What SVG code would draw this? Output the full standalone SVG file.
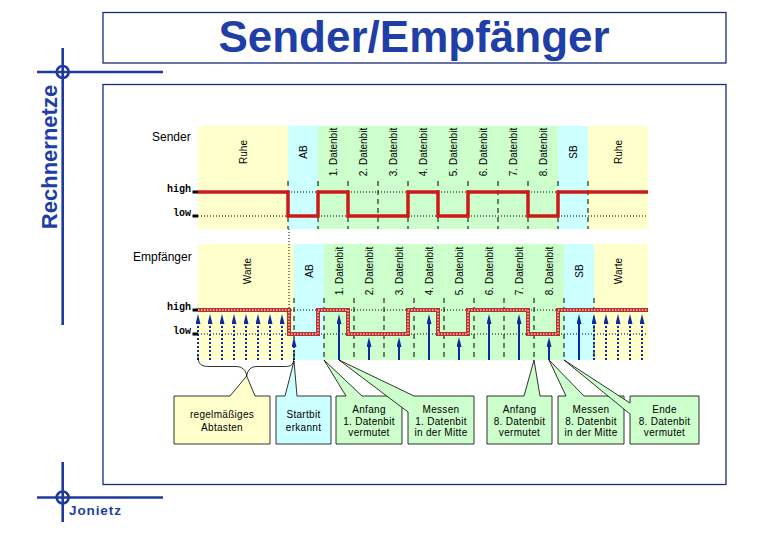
<svg xmlns="http://www.w3.org/2000/svg" width="780" height="540" viewBox="0 0 780 540">
<defs>
<style>
.frame{fill:none;stroke:#1a2a78;stroke-width:1.3}
.cross{fill:none;stroke:#1f3a9e;stroke-width:2.6}
.brand{font-family:"Liberation Sans",Arial,sans-serif;font-weight:bold;fill:#1f3fa6}
.lbl{font-family:"Liberation Sans",Arial,sans-serif;font-size:10px;fill:#000;text-anchor:middle}
.name{font-family:"Liberation Sans",Arial,sans-serif;font-size:12px;fill:#000}
.lvl{font-family:"Liberation Mono","Courier New",monospace;font-size:10px;font-weight:bold;fill:#000;text-anchor:end}
.tick{stroke:#000;stroke-width:3}
.y{fill:#ffffcc}.c{fill:#ccffff}.g{fill:#ccffcc}
.dash{stroke:#000;stroke-width:1;stroke-dasharray:5,4;fill:none}
.dot{stroke:#000;stroke-width:1;stroke-dasharray:1,2;fill:none}
.sig{fill:none;stroke:#cc1a1a;stroke-width:3.5;stroke-linejoin:miter}
.rsig{fill:none;stroke:#b83030;stroke-width:4;stroke-linejoin:miter}
.rsig2{fill:none;stroke:#f6c8b8;stroke-width:1.5;stroke-dasharray:1.5,1.5}
.smp{stroke:#0d2a9e;stroke-width:2;marker-end:url(#ah)}
.smpd{stroke:#0d2a9e;stroke-width:2;stroke-dasharray:2,2;marker-end:url(#ah)}
.box{stroke:#000;stroke-width:0.8}
.bt{font-family:"Liberation Sans",Arial,sans-serif;font-size:10px;fill:#000;text-anchor:middle;letter-spacing:0.3px}
</style>
<marker id="ah" viewBox="0 0 10 5" markerWidth="10" markerHeight="5" refX="6" refY="2.5" orient="auto" markerUnits="userSpaceOnUse">
<path d="M0,0 L10,2.5 L0,5 Z" fill="#0d2a9e"/>
</marker>
</defs>
<rect width="780" height="540" fill="#fff"/>

<g id="title">
<rect class="frame" x="103" y="12.5" width="623" height="50.5"/>
<text class="brand" x="414" y="52" font-size="44" text-anchor="middle">Sender/Empfänger</text>
</g>

<g id="frame">
<rect class="frame" x="103" y="84.5" width="623" height="400"/>
<line class="cross" x1="62.7" y1="48" x2="62.7" y2="325"/>
<line class="cross" x1="37" y1="72" x2="163" y2="72"/>
<circle class="cross" cx="62.7" cy="72" r="6"/>
<text class="brand" transform="translate(57,157) rotate(-90)" font-size="22" text-anchor="middle">Rechnernetze</text>
<line class="cross" x1="62.7" y1="462" x2="62.7" y2="522"/>
<line class="cross" x1="37" y1="497.5" x2="163" y2="497.5"/>
<circle class="cross" cx="62.7" cy="497.5" r="6"/>
<text class="brand" x="69" y="515" font-size="13.5" letter-spacing="0.9">Jonietz</text>
</g>

<g id="sender">
<rect class="y" x="198" y="126" width="90" height="103"/>
<rect class="c" x="288" y="126" width="30" height="103"/>
<rect class="g" x="318" y="126" width="240" height="103"/>
<rect class="c" x="558" y="126" width="30" height="103"/>
<rect class="y" x="588" y="126" width="60" height="103"/>
<text class="name" x="152" y="141">Sender</text>
<text class="lbl" transform="translate(247,152) rotate(-90)">Ruhe</text>
<text class="lbl" transform="translate(307,152) rotate(-90)">AB</text>
<text class="lbl" transform="translate(337,152) rotate(-90)">1. Datenbit</text>
<text class="lbl" transform="translate(367,152) rotate(-90)">2. Datenbit</text>
<text class="lbl" transform="translate(397,152) rotate(-90)">3. Datenbit</text>
<text class="lbl" transform="translate(427,152) rotate(-90)">4. Datenbit</text>
<text class="lbl" transform="translate(457,152) rotate(-90)">5. Datenbit</text>
<text class="lbl" transform="translate(487,152) rotate(-90)">6. Datenbit</text>
<text class="lbl" transform="translate(517,152) rotate(-90)">7. Datenbit</text>
<text class="lbl" transform="translate(547,152) rotate(-90)">8. Datenbit</text>
<text class="lbl" transform="translate(577,152) rotate(-90)">SB</text>
<text class="lbl" transform="translate(622,152) rotate(-90)">Ruhe</text>
<path class="dash" d="M288,181V229M318,181V229M348,181V229M378,181V229M408,181V229M438,181V229M468,181V229M498,181V229M528,181V229M558,181V229M588,181V229"/>
<path class="dot" d="M198,192H648M198,216H648"/>
<text class="lvl" x="191" y="192">high</text>
<text class="lvl" x="191" y="216">low</text>
<path class="tick" d="M192.5,192H198M192.5,216H198"/>
<path class="sig" d="M198,192H288V216H318V192H348V216H408V192H438V216H468V192H528V216H558V192H648"/>
</g>

<g id="receiver">
<rect class="y" x="198" y="244" width="96" height="116"/>
<rect class="c" x="294" y="244" width="30" height="116"/>
<rect class="g" x="324" y="244" width="240" height="116"/>
<rect class="c" x="564" y="244" width="30" height="116"/>
<rect class="y" x="594" y="244" width="54" height="116"/>
<text class="name" x="133" y="261">Empfänger</text>
<text class="lbl" transform="translate(251,271) rotate(-90)">Warte</text>
<text class="lbl" transform="translate(313,271) rotate(-90)">AB</text>
<text class="lbl" transform="translate(343,271) rotate(-90)">1. Datenbit</text>
<text class="lbl" transform="translate(373,271) rotate(-90)">2. Datenbit</text>
<text class="lbl" transform="translate(403,271) rotate(-90)">3. Datenbit</text>
<text class="lbl" transform="translate(433,271) rotate(-90)">4. Datenbit</text>
<text class="lbl" transform="translate(463,271) rotate(-90)">5. Datenbit</text>
<text class="lbl" transform="translate(493,271) rotate(-90)">6. Datenbit</text>
<text class="lbl" transform="translate(523,271) rotate(-90)">7. Datenbit</text>
<text class="lbl" transform="translate(553,271) rotate(-90)">8. Datenbit</text>
<text class="lbl" transform="translate(583,271) rotate(-90)">SB</text>
<text class="lbl" transform="translate(622,271) rotate(-90)">Warte</text>
<path class="dash" d="M294,298V360M324,298V360M354,298V360M384,298V360M414,298V360M444,298V360M474,298V360M504,298V360M534,298V360M564,298V360M594,298V360"/>
<path class="dot" d="M198,310H648M198,334H648M289,229V310"/>
<text class="lvl" x="191" y="310">high</text>
<text class="lvl" x="191" y="334">low</text>
<path class="tick" d="M192.5,310H198M192.5,334H198"/>
<path class="rsig" d="M198,310H289V334H318V310H348V334H408V310H438V334H468V310H528V334H558V310H648"/>
<path class="rsig2" d="M198,310H289V334H318V310H348V334H408V310H438V334H468V310H528V334H558V310H648"/>
</g>

<g id="samples">
<line class="smpd" x1="198" y1="360" x2="198" y2="318"/>
<line class="smpd" x1="210" y1="360" x2="210" y2="318"/>
<line class="smpd" x1="222" y1="360" x2="222" y2="318"/>
<line class="smpd" x1="234" y1="360" x2="234" y2="318"/>
<line class="smpd" x1="246" y1="360" x2="246" y2="318"/>
<line class="smpd" x1="258" y1="360" x2="258" y2="318"/>
<line class="smpd" x1="270" y1="360" x2="270" y2="318"/>
<line class="smpd" x1="282" y1="360" x2="282" y2="318"/>
<line class="smpd" x1="294" y1="360" x2="294" y2="341"/>
<line class="smp" x1="339" y1="360" x2="339" y2="318"/>
<line class="smp" x1="369" y1="360" x2="369" y2="341"/>
<line class="smp" x1="399" y1="360" x2="399" y2="341"/>
<line class="smp" x1="429" y1="360" x2="429" y2="318"/>
<line class="smp" x1="459" y1="360" x2="459" y2="341"/>
<line class="smp" x1="489" y1="360" x2="489" y2="318"/>
<line class="smp" x1="519" y1="360" x2="519" y2="318"/>
<line class="smp" x1="549" y1="360" x2="549" y2="341"/>
<line class="smp" x1="579" y1="360" x2="579" y2="318"/>
<line class="smpd" x1="594" y1="360" x2="594" y2="318"/>
<line class="smpd" x1="606" y1="360" x2="606" y2="318"/>
<line class="smpd" x1="618" y1="360" x2="618" y2="318"/>
<line class="smpd" x1="630" y1="360" x2="630" y2="318"/>
<line class="smpd" x1="642" y1="360" x2="642" y2="318"/>
</g>

<g id="connectors">
<path d="M198,356C198,364 201,366.5 209,366.5L236,366.5C242,366.5 246,370 246.7,376C247.4,370 251,366.5 257,366.5L285,366.5C292,366.5 294,364 294,356" fill="none" stroke="#000" stroke-width="0.8"/>
</g>

<g id="box-abtasten">
<path class="box y" d="M174,396H230L246.7,376L255,396H270V444H174Z"/>
<text class="bt" x="222" y="418">regelmäßiges</text>
<text class="bt" x="222" y="431">Abtasten</text>
</g>
<g id="box-startbit">
<path class="box c" d="M276,396H285L294,361L297,396H331V444H276Z"/>
<text class="bt" x="303.5" y="418">Startbit</text>
<text class="bt" x="303.5" y="431">erkannt</text>
</g>
<g id="box-anfang1">
<path class="box g" d="M336,396H346L324,360L362,396H402V444H336Z"/>
<text class="bt" x="369" y="413">Anfang</text>
<text class="bt" x="369" y="424.5">1. Datenbit</text>
<text class="bt" x="369" y="436">vermutet</text>
</g>
<g id="box-messen1">
<path class="box g" d="M408,444V412L339,360L414,396H474V444Z"/>
<text class="bt" x="441" y="413">Messen</text>
<text class="bt" x="441" y="424.5">1. Datenbit</text>
<text class="bt" x="441" y="436">in der Mitte</text>
</g>
<g id="box-anfang8">
<path class="box g" d="M487,396H524L534,360L540,396H552V444H487Z"/>
<text class="bt" x="519.5" y="413">Anfang</text>
<text class="bt" x="519.5" y="424.5">8. Datenbit</text>
<text class="bt" x="519.5" y="436">vermutet</text>
</g>
<g id="box-messen8">
<path class="box g" d="M558,396H566L549,360L584,396H624V444H558Z"/>
<text class="bt" x="591" y="413">Messen</text>
<text class="bt" x="591" y="424.5">8. Datenbit</text>
<text class="bt" x="591" y="436">in der Mitte</text>
</g>
<g id="box-ende8">
<path class="box g" d="M630,444V414L564,360L630,403V396H699V444Z"/>
<text class="bt" x="664.5" y="413">Ende</text>
<text class="bt" x="664.5" y="424.5">8. Datenbit</text>
<text class="bt" x="664.5" y="436">vermutet</text>
</g>
</svg>
